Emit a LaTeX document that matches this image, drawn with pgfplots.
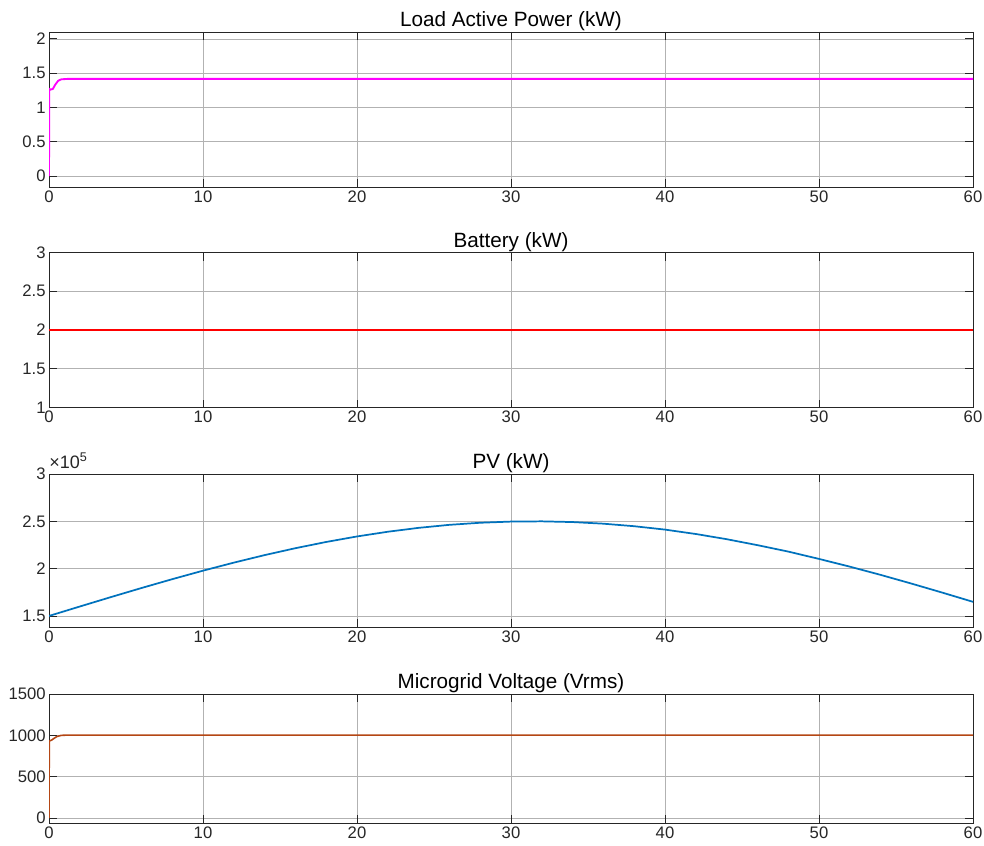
\documentclass[border=0pt]{standalone}
\usepackage{pgfplots}
\pgfplotsset{compat=1.18}
\usepackage{fontspec}
\setmainfont{Liberation Sans}
\definecolor{pvblue}{rgb}{0,0.447,0.741}
\definecolor{vbrown}{RGB}{180,70,20}
\definecolor{axgray}{RGB}{38,38,38}
\definecolor{mymag}{RGB}{255,0,255}
\definecolor{myred}{RGB}{255,0,0}
\pgfplotsset{
  mystyle/.style={
    scale only axis,
    width=693pt,
    xmin=0, xmax=60,
    xtick={0,10,20,30,40,50,60},
    tick align=inside,
    xtick pos=both, ytick pos=both,
    major tick length=6pt,
    grid=major,
    major grid style={black!30, line width=0.5pt},
    axis line style={axgray, line width=0.6pt},
    every tick/.style={axgray, line width=0.6pt},
    tick label style={font=\fontsize{12.5}{14}\selectfont, text=axgray},
    /pgf/number format/assume math mode=true,
    /pgf/number format/1000 sep={},
    every axis title shift=0pt,
    title style={font=\fontsize{15.5}{17}\selectfont, at={(0.5,1)}, anchor=base, yshift=4pt},
    xticklabel style={yshift=1pt},
    yticklabel style={xshift=1pt},
  }
}
\begin{document}
\begin{tikzpicture}
\useasboundingbox (0,0) rectangle (738pt,-633.75pt);
% Axis 1
\begin{axis}[mystyle, at={(36.75pt,-24pt)}, anchor=north west, height=116.25pt,
  ymin=-0.16, ymax=2.1, ytick={0,0.5,1,1.5,2},
  title={Load Active Power (kW)}]
\addplot[mymag, line width=1.4pt] coordinates {
(0,0) (0.02,1.27) (0.1,1.26) (0.25,1.27) (0.4,1.33) (0.6,1.39) (0.8,1.41) (1.2,1.416) (60,1.416)
};
\end{axis}
% Axis 2
\begin{axis}[mystyle, at={(36.75pt,-189.375pt)}, anchor=north west, height=116.25pt,
  ymin=1, ymax=3, ytick={1,1.5,2,2.5,3},
  title={Battery (kW)}]
\addplot[myred, line width=1.2pt] coordinates {(0,2) (60,2)};
\end{axis}
% Axis 3
\begin{axis}[mystyle, name=pv, at={(36.75pt,-355.5pt)}, anchor=north west, height=114.75pt,
  ymin=1.383, ymax=3, ytick={1.5,2,2.5,3},
  title={PV (kW)}]
\addplot[pvblue, line width=1.3pt] coordinates {
(0,1.5) (2,1.5996) (4,1.6982) (6,1.7948) (8,1.8884) (10,1.9783) (12,2.0633)
(14,2.1428) (16,2.2159) (18,2.2818) (20,2.3400) (22,2.3898) (24,2.4309)
(26,2.4628) (28,2.4848) (30,2.4972) (32,2.4997) (34,2.4922) (36,2.4749)
(38,2.4482) (40,2.4124) (42,2.3660) (44,2.3112) (46,2.2482) (48,2.1802)
(50,2.1026) (52,2.0209) (54,1.9339) (56,1.8420) (58,1.7468) (60,1.6490)
};
\end{axis}
\node[anchor=south west, inner sep=0pt, text=axgray, font=\fontsize{13.5}{15}\selectfont] at ([yshift=3.5pt]pv.north west) {×10\textsuperscript{5}};
% Axis 4
\begin{axis}[mystyle, at={(36.75pt,-520.5pt)}, anchor=north west, height=96.75pt,
  ymin=-60, ymax=1500, ytick={0,500,1000,1500},
  title={Microgrid Voltage (Vrms)}]
\addplot[vbrown, line width=1.2pt] coordinates {
(0,0) (0.02,935) (0.15,940) (0.3,960) (0.5,985) (0.8,1000) (1.2,1003) (60,1003)
};
\end{axis}
\end{tikzpicture}
\end{document}
